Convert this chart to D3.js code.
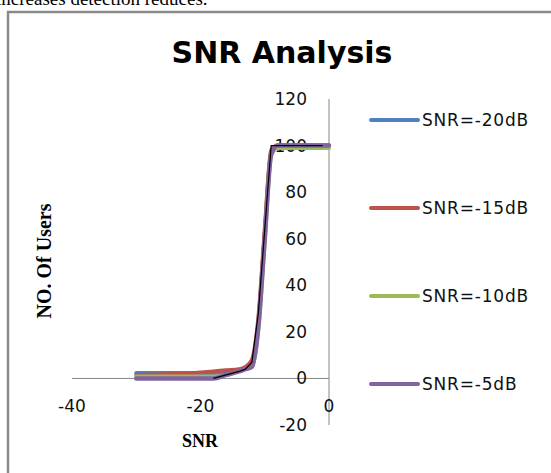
<!DOCTYPE html>
<html>
<head>
<meta charset="utf-8">
<script src="https://cdnjs.cloudflare.com/ajax/libs/d3/7.8.5/d3.min.js"></script>
<style>
  body { margin: 0; background: #fff; }
  svg { display: block; }
</style>
</head>
<body>
<div id="snr_chart"></div>
<script>
// SNR sweep (x) and detected users for each noise level
var snrValues = [-30, -20, -18, -16, -14, -13, -12, -11, -10, -9, -8, -6, -4, -2, 0];
var users20 = [2.3, 2.3, 2.3, 2.5, 3.5, 4.5, 6, 24, 62, 97, 100, 100, 100, 100, 100];
var users15 = [1.5, 2.5, 3, 3.5, 4, 5, 8, 26, 64, 98, 100, 100, 100, 100, 100];
var users10 = [0.8, 0.8, 0.8, 1.5, 3, 4, 5, 21, 59, 96, 99, 99, 99, 99, 99];
var users5 = [0, 0, 0, 1.5, 3, 4, 5, 22, 60, 96, 100, 100, 100, 100, 100];
// thin black reference curve
var refSnr = [-18, -16, -14, -13, -12, -11, -10, -9, -8, -1];
var refUsers = [0, 1.5, 3, 4, 7, 28, 64, 100, 100, 100];

var seriesNames = ["SNR=-20dB", "SNR=-15dB", "SNR=-10dB", "SNR=-5dB"];
var seriesColors = ["#4F81BD", "#C0504D", "#9BBB59", "#8064A2"];
var xTicks = [-40, -20, 0];
var yTicks = [-20, 0, 20, 40, 60, 80, 100, 120];

var width = 551, height = 473;

var svg = d3.select("#snr_chart")
  .append("svg")
    .attr("width", width)
    .attr("height", height);

svg.append("rect").attr("width", width).attr("height", height).attr("fill", "#fff");

// bit of the paper text above the figure (cut off, as in the source page)
svg.append("text")
  .attr("x", -4).attr("y", 5)
  .style("font-family", "'Liberation Serif', serif")
  .style("font-size", "19px")
  .text("increases detection reduces.");

// figure frame
svg.append("path")
  .attr("d", "M8,473 L8,12 L551,12")
  .attr("fill", "none")
  .attr("stroke", "#8a8a8a")
  .attr("stroke-width", 2.5);

// scales
var xScale = d3.scaleLinear().domain([-40, 0]).range([72, 329]);
var yScale = d3.scaleLinear().domain([-20, 120]).range([425, 99]);

// axes lines (Excel style: axis through zero)
svg.append("line")
  .attr("x1", xScale(-40)).attr("x2", xScale(0))
  .attr("y1", yScale(0)).attr("y2", yScale(0))
  .attr("stroke", "#868686").attr("stroke-width", 1);
svg.append("line")
  .attr("x1", xScale(0)).attr("x2", xScale(0))
  .attr("y1", yScale(120)).attr("y2", yScale(-20))
  .attr("stroke", "#868686").attr("stroke-width", 1);

// tick labels
svg.selectAll(".ylab")
  .data(yTicks)
  .enter().append("text")
    .attr("class", "ylab")
    .attr("x", 307)
    .attr("y", function(d) { return yScale(d) + 6; })
    .attr("text-anchor", "end")
    .style("font-family", "'DejaVu Sans', sans-serif")
    .style("font-size", "17px")
    .attr("fill", "#111")
    .text(function(d) { return d; });

svg.selectAll(".xlab")
  .data(xTicks)
  .enter().append("text")
    .attr("class", "xlab")
    .attr("x", function(d) { return xScale(d); })
    .attr("y", 412)
    .attr("text-anchor", "middle")
    .style("font-family", "'DejaVu Sans', sans-serif")
    .style("font-size", "17px")
    .attr("fill", "#111")
    .text(function(d) { return d; });

// series
var line = d3.line()
  .x(function(d) { return xScale(d[0]); })
  .y(function(d) { return yScale(d[1]); })
  .curve(d3.curveMonotoneX);

var allUsers = [users20, users15, users10, users5];
allUsers.forEach(function(vals, i) {
  svg.append("path")
    .datum(snrValues.map(function(x, j) { return [x, vals[j]]; }))
    .attr("fill", "none")
    .attr("stroke", seriesColors[i])
    .attr("stroke-width", i === 3 ? 4.5 : 4)
    .attr("stroke-linecap", "round")
    .attr("stroke-linejoin", "round")
    .attr("d", line);
});

svg.append("path")
  .datum(refSnr.map(function(x, j) { return [x, refUsers[j]]; }))
  .attr("fill", "none")
  .attr("stroke", "#000")
  .attr("stroke-width", 1.2)
  .attr("d", d3.line()
    .x(function(d) { return xScale(d[0]); })
    .y(function(d) { return yScale(d[1]); }));

// title
svg.append("text")
  .attr("x", 282).attr("y", 63)
  .attr("text-anchor", "middle")
  .style("font-family", "'DejaVu Sans', sans-serif")
  .style("font-weight", "bold")
  .style("font-size", "30px")
  .text("SNR Analysis");

// axis titles
svg.append("text")
  .attr("transform", "translate(51,261) rotate(-90)")
  .attr("text-anchor", "middle")
  .style("font-family", "'Liberation Serif', serif")
  .style("font-weight", "bold")
  .style("font-size", "20px")
  .text("NO. Of Users");

svg.append("text")
  .attr("x", 200).attr("y", 447)
  .attr("text-anchor", "middle")
  .style("font-family", "'Liberation Serif', serif")
  .style("font-weight", "bold")
  .style("font-size", "18px")
  .text("SNR");

// legend
var legend = svg.selectAll(".legend")
  .data(seriesNames)
  .enter().append("g")
    .attr("class", "legend")
    .attr("transform", function(d, i) { return "translate(0," + (120 + i * 88) + ")"; });

legend.append("line")
  .attr("x1", 371).attr("x2", 418)
  .attr("stroke", function(d, i) { return seriesColors[i]; })
  .attr("stroke-width", 4)
  .attr("stroke-linecap", "round");

legend.append("text")
  .attr("x", 422).attr("y", 6)
  .style("font-family", "'DejaVu Sans', sans-serif")
  .style("font-size", "17px")
  .style("letter-spacing", "0.8px")
  .attr("fill", "#111")
  .text(function(d) { return d; });
</script>
</body>
</html>
